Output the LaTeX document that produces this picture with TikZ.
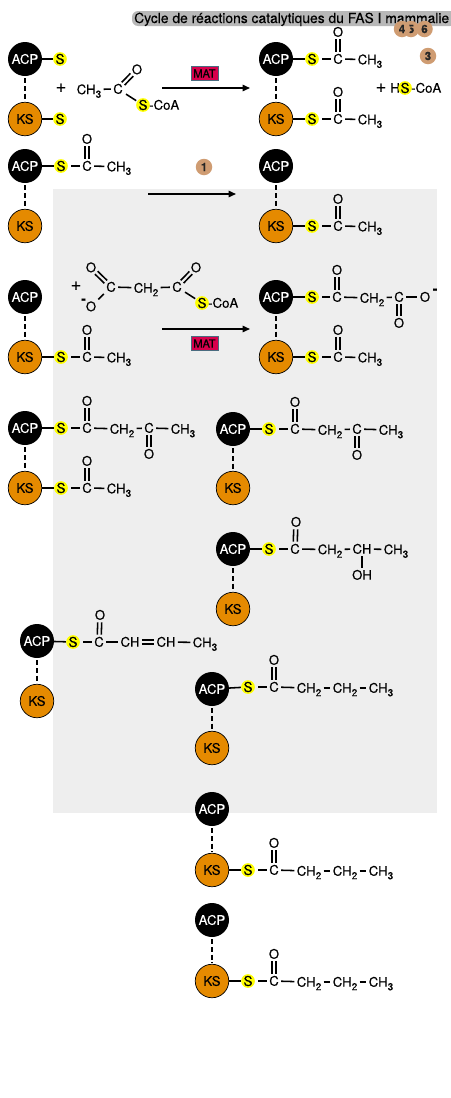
\documentclass[tikz,border=0pt]{standalone}
\usepackage{fontspec}
\setmainfont[FakeBold=0.25]{TeX Gyre Heros}
\usetikzlibrary{arrows.meta,calc}
\definecolor{ksorange}{HTML}{E58A00}
\definecolor{sulfur}{HTML}{FFFF00}
\definecolor{panel}{HTML}{EEEEEE}
\definecolor{matred}{HTML}{D8004C}
\definecolor{matedge}{HTML}{4A6C80}
\definecolor{badgetan}{HTML}{CF9C72}
\definecolor{halo}{HTML}{B8B8B8}
\tikzset{
  acpnode/.style={circle,fill=black,text=white,minimum size=34,inner sep=0,font=\fontsize{13.2}{15}\selectfont},
  ksnode/.style={circle,fill=ksorange,draw=black,line width=.7,minimum size=33.5,inner sep=0,font=\fontsize{13.2}{15}\selectfont},
  snode/.style={circle,fill=sulfur,minimum size=13,inner sep=0,font=\fontsize{13.5}{15}\selectfont},
  atom/.style={inner sep=.8,outer sep=1.6,text height=9.4,text depth=0,font=\fontsize{13.2}{15}\selectfont},
  plain/.style={inner sep=0,text height=9.4,text depth=0,font=\fontsize{13.2}{15}\selectfont},
  plus/.style={inner sep=0,font=\fontsize{18}{20}\selectfont},
  minus/.style={inner sep=0,font=\bfseries\fontsize{14}{16}\selectfont},
  bond/.style={line width=1.55,black},
  sbond/.style={bond,shorten <=3},
  link/.style={line width=1.9,black,dash pattern=on 5 off 2.6,shorten <=2.2,shorten >=1.5},
  dbl/.style={bond,shorten <=7.4,shorten >=7.4},
  react/.style={line width=1.5,-{Triangle[length=7.5,width=6.5]}},
  enzyme/.style={fill=matred,draw=matedge,line width=.9,minimum width=27,minimum height=13.5,inner sep=0,font=\fontsize{11}{13}\selectfont},
  badge/.style={circle,fill=badgetan,minimum size=16.5,inner sep=0,font=\bfseries\fontsize{11.5}{12}\selectfont,text=black!85},
  halobar/.style={fill=halo,rounded corners=6},
}
\newcommand{\subs}[1]{\raisebox{-3.5pt}{\fontsize{10}{10}\selectfont #1}}
\newcommand{\Cthree}{CH\subs{3}}
\newcommand{\Ctwo}{CH\subs{2}}
\newcommand{\At}[3]{\node[atom] (#1) at (#2,#3)}
\newcommand{\Carrier}[4]{%
  \node[acpnode] (#1acp) at (#2,#3) {ACP};
  \node[ksnode] (#1ks) at (#2,#4) {KS};
  \draw[link] (#1acp) -- (#1ks);}
\newcommand{\Dbl}[2]{%
  \draw[dbl] ($(#1)!2pt!90:(#2)$) -- ($(#2)!2pt!-90:(#1)$);
  \draw[dbl] ($(#1)!2pt!-90:(#2)$) -- ($(#2)!2pt!90:(#1)$);}
\newcommand{\Acetyl}[4]{%
  \node[snode] (#1s) at (#3,#4) {S};
  \pgfmathsetmacro{\cx}{#3+26}\pgfmathsetmacro{\oy}{#4-27}\pgfmathsetmacro{\mx}{#3+58}\pgfmathsetmacro{\my}{#4+.6}
  \node[atom] (#1c) at (\cx,#4) {C};
  \node[atom] (#1o) at (\cx,\oy) {O};
  \node[atom] (#1m) at (\mx,\my) {\Cthree};
  \draw[bond] (#2) -- (#1s);
  \draw[sbond] (#1s) -- (#1c);
  \draw[bond] (#1c) -- (#1m);
  \Dbl{#1c}{#1o}}
\begin{document}
\begin{tikzpicture}[x=1pt,y=-1pt]
\useasboundingbox (0,0) rectangle (450,1098);
\fill[panel] (53,189) rectangle (437,813);
\fill[halobar] (132,11) rectangle (456,26);
\node[anchor=base west,inner sep=0,font=\fontsize{13.85}{15}\selectfont] (title) at (134,23) {Cycle de réactions catalytiques du FAS I mammalie};
\node[badge] (b5) at (411,29) {5};
\node[badge] (b6) at (424.5,29) {6};
\node[badge] (b4) at (402,29) {4};
\node[badge] (b3) at (428,56) {3};
\node[badge] (b1) at (204,167) {1};
\Carrier{a}{25}{59}{119}
\node[snode] (as1) at (60,59) {S};
\node[snode] (as2) at (60,119) {S};
\draw[bond] (aacp) -- (as1);
\draw[bond] (aks) -- (as2);
\node[plus] (ap) at (61,88) {+};
\At{am}{89}{89.5}{\Cthree};
\At{ac}{118}{89}{C};
\At{ao}{137}{69.5}{O};
\node[snode] (asc) at (143,105) {S};
\node[plain,anchor=west] (acoa) at (149,105) {-CoA};
\draw[bond] (am) -- (ac);
\Dbl{ac}{ao}
\draw[bond,shorten <=1,shorten >=1] (ac) -- (asc);
\coordinate (r1a) at (162,88);\coordinate (r1b) at (250,88);
\draw[react] (r1a) -- (r1b);
\node[enzyme] (mat1) at (204.5,73.5) {MAT};
\Carrier{b}{276}{59}{119}
\Acetyl{b1}{bacp}{312}{59}
\Acetyl{b2}{bks}{312}{119}
\node[plus] (bp) at (381,88) {+};
\node[plain,anchor=east] (bh) at (400,88) {H};
\node[snode] (bs) at (405,88) {S};
\node[plain,anchor=west] (bcoa) at (411,88) {-CoA};
\Carrier{c}{25}{166}{226}
\Acetyl{c1}{cacp}{61}{166}
\coordinate (r2a) at (148,194);\coordinate (r2b) at (236,194);
\draw[react] (r2a) -- (r2b);
\Carrier{d}{276}{166}{226}
\Acetyl{d1}{dks}{312}{226}
\Carrier{e}{25}{297}{357}
\Acetyl{e1}{eks}{61}{357}
\node[plus] (ep) at (76,286) {+};
\At{eo1}{91}{267.5}{O};
\At{ec1}{111}{287}{C};
\At{em}{146}{288}{\Ctwo};
\At{ec2}{177}{287}{C};
\At{eo2}{196}{267.5}{O};
\At{eo3}{91}{306.5}{O};
\node[minus] (eminus) at (83.5,301) {-};
\node[snode] (es) at (202,303) {S};
\node[plain,anchor=west] (ecoa) at (208,303) {-CoA};
\Dbl{ec1}{eo1}
\draw[bond] (ec1) -- (eo3);
\draw[bond] (ec1) -- (em);
\draw[bond] (em) -- (ec2);
\Dbl{ec2}{eo2}
\draw[bond,shorten <=1,shorten >=1] (ec2) -- (es);
\coordinate (r3a) at (162,329);\coordinate (r3b) at (250,329);
\draw[react] (r3a) -- (r3b);
\node[enzyme] (mat2) at (204.5,343.5) {MAT};
\Carrier{f}{276}{297}{357}
\Acetyl{f1}{fks}{312}{357}
\node[snode] (fs) at (312,297) {S};
\At{fc1}{337}{297}{C};
\At{fo1}{337}{270}{O};
\At{fm}{372}{298}{\Ctwo};
\At{fc2}{399}{297}{C};
\At{fo2}{399}{323}{O};
\At{fo3}{425}{297}{O};
\node[minus] (fminus) at (435,291) {-};
\draw[bond] (facp) -- (fs);
\draw[sbond] (fs) -- (fc1);
\Dbl{fc1}{fo1}
\draw[bond] (fc1) -- (fm);
\draw[bond] (fm) -- (fc2);
\Dbl{fc2}{fo2}
\draw[bond] (fc2) -- (fo3);
\Carrier{g}{25}{428}{488}
\Acetyl{g1}{gks}{61}{488}
\node[snode] (gs) at (61,428) {S};
\At{gc1}{87}{428}{C};
\At{go1}{87}{401}{O};
\At{gm}{122}{429}{\Ctwo};
\At{gc2}{149}{428}{C};
\At{go2}{149}{454}{O};
\At{gt}{183}{429}{\Cthree};
\draw[bond] (gacp) -- (gs);
\draw[sbond] (gs) -- (gc1);
\Dbl{gc1}{go1}
\draw[bond] (gc1) -- (gm);
\draw[bond] (gm) -- (gc2);
\Dbl{gc2}{go2}
\draw[bond] (gc2) -- (gt);
\Carrier{h}{233}{429}{488}
\node[snode] (hs) at (269,429) {S};
\At{hc1}{295}{429}{C};
\At{ho1}{295}{402}{O};
\At{hm}{330}{430}{\Ctwo};
\At{hc2}{357}{429}{C};
\At{ho2}{357}{455}{O};
\At{ht}{391}{430}{\Cthree};
\draw[bond] (hacp) -- (hs);
\draw[sbond] (hs) -- (hc1);
\Dbl{hc1}{ho1}
\draw[bond] (hc1) -- (hm);
\draw[bond] (hm) -- (hc2);
\Dbl{hc2}{ho2}
\draw[bond] (hc2) -- (ht);
\Carrier{i}{233}{549}{609}
\node[snode] (is) at (269,549) {S};
\At{ic}{295}{549}{C};
\At{io}{296}{522}{O};
\At{im}{330}{549.5}{\Ctwo};
\At{ih}{362}{549}{CH};
\At{ioh}{362}{575}{OH};
\At{it}{396}{549.5}{\Cthree};
\draw[bond] (iacp) -- (is);
\draw[sbond] (is) -- (ic);
\Dbl{ic}{io}
\draw[bond] (ic) -- (im);
\draw[bond] (im) -- (ih);
\draw[bond] (ih) -- (ioh);
\draw[bond] (ih) -- (it);
\Carrier{j}{37}{641}{701}
\node[snode] (js) at (73,642) {S};
\At{jc}{99}{642}{C};
\At{jo}{100}{615}{O};
\At{jh1}{130}{642}{CH};
\At{jh2}{166}{642}{CH};
\At{jt}{205}{642.5}{\Cthree};
\draw[bond] (jacp) -- (js);
\draw[sbond] (js) -- (jc);
\Dbl{jc}{jo}
\draw[bond] (jc) -- (jh1);
\draw[bond,transform canvas={yshift=2}] (jh1) -- (jh2);
\draw[bond,transform canvas={yshift=-2}] (jh1) -- (jh2);
\draw[bond] (jh2) -- (jt);
\Carrier{k}{212}{689}{748}
\node[snode] (ks) at (248,687) {S};
\At{kc}{274}{687}{C};
\At{ko}{274}{660}{O};
\At{km1}{309}{688}{\Ctwo};
\At{km2}{345}{688}{\Ctwo};
\At{kt}{381}{688}{\Cthree};
\draw[bond] (kacp) -- (ks);
\draw[sbond] (ks) -- (kc);
\Dbl{kc}{ko}
\draw[bond] (kc) -- (km1);
\draw[bond] (km1) -- (km2);
\draw[bond] (km2) -- (kt);
\Carrier{l}{212}{809}{870}
\node[snode] (ls) at (248,870) {S};
\At{lc}{274}{870}{C};
\At{lo}{274}{843}{O};
\At{lm1}{309}{871}{\Ctwo};
\At{lm2}{345}{871}{\Ctwo};
\At{lt}{381}{871}{\Cthree};
\draw[bond] (lks) -- (ls);
\draw[sbond] (ls) -- (lc);
\Dbl{lc}{lo}
\draw[bond] (lc) -- (lm1);
\draw[bond] (lm1) -- (lm2);
\draw[bond] (lm2) -- (lt);
\Carrier{n}{212}{920}{981}
\node[snode] (ns) at (248,981) {S};
\At{nc}{274}{981}{C};
\At{no}{274}{954}{O};
\At{nm1}{309}{982}{\Ctwo};
\At{nm2}{345}{982}{\Ctwo};
\At{nt}{381}{982}{\Cthree};
\draw[bond] (nks) -- (ns);
\draw[sbond] (ns) -- (nc);
\Dbl{nc}{no}
\draw[bond] (nc) -- (nm1);
\draw[bond] (nm1) -- (nm2);
\draw[bond] (nm2) -- (nt);
\end{tikzpicture}
\end{document}
